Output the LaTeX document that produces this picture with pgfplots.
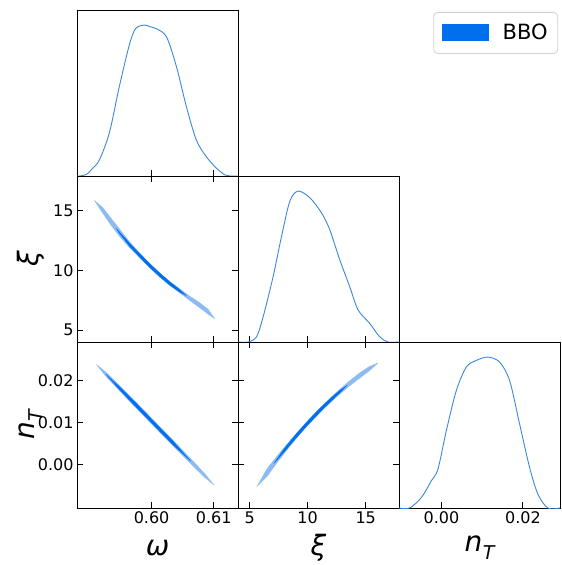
\documentclass[border=0pt]{standalone}
\usepackage{fontspec}
\setmainfont{DejaVu Sans}
\usepackage{pgfplots}
\pgfplotsset{compat=1.18}
\definecolor{bboblue}{HTML}{006FED}
\definecolor{bbolight}{HTML}{8CBBF1}
\definecolor{bboline}{HTML}{3A88D8}
\newcommand{\nT}{n\kern0.5pt\raisebox{-0.28em}{\fontsize{19}{19}\selectfont T}}
\pgfplotsset{
  corner/.style={scale only axis, width=161pt, height=166pt, anchor=south west,
    axis line style={line width=0.9pt},
    tick style={black, line width=0.9pt}, major tick length=6pt, tick align=inside,
    tick label style={font=\fontsize{16}{16}\selectfont},
    label style={font=\fontsize{28}{28}\selectfont\itshape},
    scaled ticks=false,
    xlabel style={at={(axis description cs:0.5,-0.241)},anchor=center},
    ylabel style={at={(axis description cs:-0.29,0.5)},anchor=center},
  },
  marg/.style={corner, ymin=0, ymax=1.1, ytick=\empty, xtick pos=left},
  wx/.style={xmin=0.5880, xmax=0.6139},
  xx/.style={xmin=4.0, xmax=17.87},
  nx/.style={xmin=-0.0104, xmax=0.0291},
  outer/.style={fill=bbolight, draw=bbolight, line width=0.3pt, line join=round},
  inner/.style={fill=bboblue, draw=bboblue, line width=0.2pt, line join=round},
  marline/.style={bboline, line width=0.9pt, smooth, tension=0.5},
}
\begin{document}
\begin{tikzpicture}[x=1pt,y=1pt]
\path[use as bounding box] (0,0) rectangle (562,565);

% row 1: omega marginal
\begin{axis}[marg, wx, at={(77pt,389pt)}, xtick={0.60,0.61}, xticklabels={},
  legend style={at={(2.988,0.988)}, anchor=north east, draw=gray!35, rounded corners=4pt,
    fill=white, font=\fontsize{21}{21}\selectfont, inner xsep=8pt, inner ysep=10pt, line width=0.8pt}]
\addlegendimage{legend image code/.code={\fill[bboblue, sharp corners, draw=none] (0pt,-8.5pt) rectangle (47pt,8.5pt); \path[draw=none] (0pt,0pt) -- (59pt,0pt);}}
\addlegendentry{BBO}
\addplot[marline] coordinates {
(0.5880,0) (0.5884,0) (0.5895,0.01) (0.5905,0.05) (0.5916,0.106) (0.5932,0.285) (0.5948,0.591)
(0.5965,0.881) (0.5975,0.98) (0.5989,1.0) (0.5997,0.99) (0.6008,0.975) (0.6024,0.922)
(0.6040,0.724) (0.6056,0.459) (0.6072,0.238) (0.6088,0.128) (0.6104,0.053) (0.6118,0.007)
(0.6126,0) (0.6139,0)};
\end{axis}

% row 2 col 1: omega - xi
\begin{axis}[corner, wx, at={(77pt,223pt)}, ymin=4.0, ymax=17.87,
  xtick={0.60,0.61}, xticklabels={}, ytick={5,10,15}, yticklabels={5,10,15}, ylabel={ξ}]
\addplot[outer] coordinates {
(0.59080,15.83) (0.59214,15.23) (0.59350,14.32) (0.59484,13.44) (0.59645,12.38) (0.59806,11.45)
(0.59967,10.58) (0.60129,9.79) (0.60290,9.07) (0.60451,8.45) (0.60613,7.83) (0.60774,7.28)
(0.60908,6.74) (0.61016,5.94) (0.60908,6.33) (0.60774,6.86) (0.60613,7.47) (0.60451,8.12)
(0.60290,8.73) (0.60129,9.43) (0.59967,10.22) (0.59806,11.05) (0.59645,11.88) (0.59484,12.83)
(0.59350,13.74) (0.59214,14.77)} -- cycle;
\addplot[inner] coordinates {
(0.5943,13.49) (0.59484,13.19) (0.59645,12.26) (0.59806,11.40) (0.59967,10.56) (0.60129,9.77)
(0.60290,9.04) (0.60451,8.39) (0.6056,7.86) (0.60451,8.17) (0.60290,8.76) (0.60129,9.46)
(0.59967,10.24) (0.59806,11.10) (0.59645,12.00) (0.59484,13.07)} -- cycle;
\end{axis}

% row 2 col 2: xi marginal
\begin{axis}[marg, xx, at={(238pt,223pt)}, xtick={5,10,15}, xticklabels={}]
\addplot[marline] coordinates {
(4.0,0) (4.88,0) (5.60,0.035) (6.17,0.168) (7.03,0.435) (7.75,0.70) (8.47,0.934) (9.18,1.0)
(10.19,0.956) (11.19,0.856) (11.90,0.745) (12.76,0.546) (13.62,0.368) (14.34,0.213)
(15.34,0.124) (16.2,0.035) (16.92,0) (17.87,0)};
\end{axis}

% row 3 col 1: omega - nT
\begin{axis}[corner, wx, at={(77pt,57pt)}, ymin=-0.0104, ymax=0.0291,
  xtick={0.60,0.61}, xticklabels={0.60,0.61}, ytick={0,0.01,0.02}, yticklabels={0.00,0.01,0.02},
  xlabel={ω}, ylabel={\nT}]
\addplot[outer] coordinates {
(0.59113,0.02374) (0.59264,0.02194) (0.59491,0.01863) (0.59775,0.01439) (0.60059,0.01008)
(0.60343,0.00575) (0.60627,0.00138) (0.60854,-0.00222) (0.61005,-0.00496) (0.60854,-0.00310)
(0.60627,0.00018) (0.60343,0.00443) (0.60059,0.00870) (0.59775,0.01301) (0.59491,0.01737)
(0.59264,0.02094)} -- cycle;
\addplot[inner] coordinates {
(0.59264,0.02144) (0.59491,0.01836) (0.59775,0.01417) (0.60059,0.00986) (0.60343,0.00553)
(0.60627,0.00078) (0.60343,0.00465) (0.60059,0.00892) (0.59775,0.01323) (0.59491,0.01764)} -- cycle;
\end{axis}

% row 3 col 2: xi - nT
\begin{axis}[corner, xx, at={(238pt,57pt)}, ymin=-0.0104, ymax=0.0291,
  xtick={5,10,15}, xticklabels={5,10,15}, ytick={0,0.01,0.02}, yticklabels={}, xlabel={ξ}]
\addplot[outer] coordinates {
(5.63,-0.00530) (6.5,-0.00107) (7.5,0.00242) (8.5,0.00573) (9.5,0.00885) (10.5,0.01182)
(11.5,0.01459) (12.5,0.01719) (13.5,0.01959) (14.5,0.02178) (15.3,0.02324) (16.06,0.02410)
(15.3,0.02222) (14.5,0.02054) (13.5,0.01841) (12.5,0.01607) (11.5,0.01353) (10.5,0.01072)
(9.5,0.00771) (8.5,0.00442) (7.5,0.00088) (6.5,-0.00287)} -- cycle;
\addplot[inner] coordinates {
(7.1,0.00023) (8.0,0.00378) (9.0,0.00716) (10,0.01029) (11,0.01316) (12,0.01578) (12.8,0.01766)
(13.4,0.01877) (12.8,0.01708) (12,0.01496) (11,0.01222) (10,0.00931) (9,0.00624) (8,0.00300)} -- cycle;
\end{axis}

% row 3 col 3: nT marginal
\begin{axis}[marg, nx, at={(399pt,57pt)}, xtick={0,0.02}, xticklabels={0.00,0.02}, xlabel={\nT}]
\addplot[marline] coordinates {
(-0.0104,0) (-0.0078,0) (-0.0049,0.070) (-0.00245,0.181) (-0.00083,0.259) (0.00122,0.513)
(0.00367,0.779) (0.00612,0.934) (0.00857,0.978) (0.01141,1.0) (0.01428,0.967) (0.01673,0.845)
(0.01918,0.558) (0.02163,0.270) (0.02366,0.093) (0.0261,0) (0.0291,0)};
\end{axis}
\end{tikzpicture}
\end{document}
